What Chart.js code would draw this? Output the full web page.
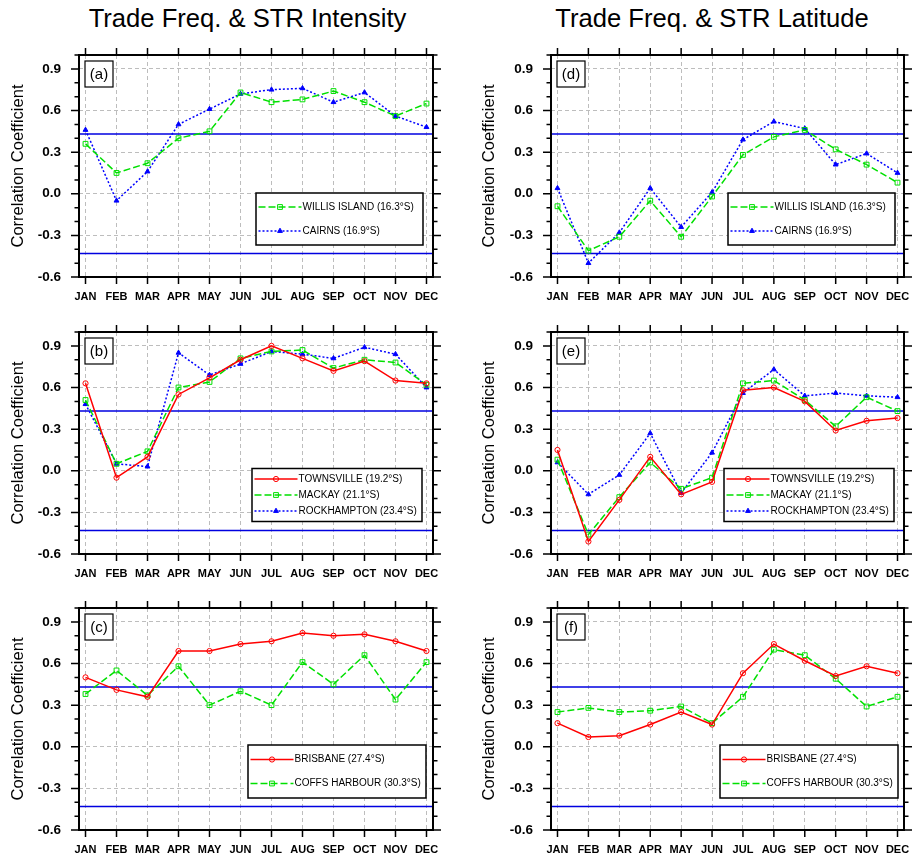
<!DOCTYPE html>
<html><head><meta charset="utf-8">
<script src="https://cdn.jsdelivr.net/npm/chart.js@4.4.1/dist/chart.umd.min.js"></script>
<style>
html,body{margin:0;padding:0;background:#fff;width:912px;height:858px;overflow:hidden;position:relative;font-family:"Liberation Sans",Arial,sans-serif}
canvas{position:absolute}
.ttl{position:absolute;top:4px;width:420px;text-align:center;font-size:25.6px;color:#000;white-space:nowrap;line-height:29px}
</style></head><body>
<div class="ttl" id="t0" style="left:37.5px"></div>
<div class="ttl" id="t1" style="left:502px"></div>
<script>
// ---------------- DATA ----------------
const months = ['JAN','FEB','MAR','APR','MAY','JUN','JUL','AUG','SEP','OCT','NOV','DEC'];
const yTickValues = [-0.6, -0.3, 0.0, 0.3, 0.6, 0.9];
const yTickLabels = ['-0.6', '-0.3', '0.0', '0.3', '0.6', '0.9'];
const sigLevel = 0.43;
const columnTitles = ['Trade Freq. & STR Intensity', 'Trade Freq. & STR Latitude'];
const yAxisTitle = 'Correlation Coefficient';
const panelLabels = ['(a)', '(b)', '(c)', '(d)', '(e)', '(f)'];

const namesNorth = ['WILLIS ISLAND (16.3°S)', 'CAIRNS (16.9°S)'];
const namesCentral = ['TOWNSVILLE (19.2°S)', 'MACKAY (21.1°S)', 'ROCKHAMPTON (23.4°S)'];
const namesSouth = ['BRISBANE (27.4°S)', 'COFFS HARBOUR (30.3°S)'];

// Trade frequency vs STR intensity
const intWillis      = [0.36, 0.15, 0.22, 0.40, 0.45, 0.73, 0.66, 0.68, 0.74, 0.66, 0.56, 0.65];
const intCairns      = [0.46, -0.05, 0.16, 0.50, 0.61, 0.72, 0.75, 0.76, 0.66, 0.73, 0.56, 0.48];
const intTownsville  = [0.63, -0.05, 0.10, 0.55, 0.67, 0.80, 0.90, 0.81, 0.72, 0.79, 0.65, 0.63];
const intMackay      = [0.51, 0.05, 0.14, 0.60, 0.64, 0.81, 0.86, 0.87, 0.74, 0.80, 0.78, 0.62];
const intRockhampton = [0.48, 0.05, 0.03, 0.85, 0.69, 0.77, 0.86, 0.84, 0.81, 0.89, 0.84, 0.60];
const intBrisbane    = [0.50, 0.41, 0.36, 0.69, 0.69, 0.74, 0.76, 0.82, 0.80, 0.81, 0.76, 0.69];
const intCoffs       = [0.38, 0.55, 0.37, 0.58, 0.30, 0.40, 0.30, 0.61, 0.45, 0.66, 0.34, 0.61];

// Trade frequency vs STR latitude
const latWillis      = [-0.09, -0.41, -0.31, -0.05, -0.31, -0.02, 0.28, 0.41, 0.46, 0.32, 0.21, 0.08];
const latCairns      = [0.04, -0.50, -0.28, 0.04, -0.24, 0.01, 0.39, 0.52, 0.47, 0.21, 0.29, 0.15];
const latTownsville  = [0.15, -0.51, -0.21, 0.10, -0.17, -0.08, 0.58, 0.60, 0.50, 0.29, 0.36, 0.38];
const latMackay      = [0.08, -0.46, -0.19, 0.06, -0.13, -0.05, 0.63, 0.65, 0.51, 0.32, 0.53, 0.43];
const latRockhampton = [0.06, -0.17, -0.03, 0.27, -0.16, 0.13, 0.56, 0.73, 0.54, 0.56, 0.54, 0.53];
const latBrisbane    = [0.17, 0.07, 0.08, 0.16, 0.25, 0.16, 0.53, 0.74, 0.62, 0.51, 0.58, 0.53];
const latCoffs       = [0.25, 0.28, 0.25, 0.26, 0.29, 0.17, 0.36, 0.70, 0.66, 0.49, 0.29, 0.36];

// ---------------- STYLES ----------------
const FONT = '"Liberation Sans", Arial, Helvetica, sans-serif';
Chart.defaults.font.family = FONT;
Chart.defaults.color = '#000';

const STY = {
  red:   {color: '#ff0000', dash: [],     pointStyle: 'circle',   radius: 2.6, fill: 'rgba(255,255,255,0)'},
  green: {color: '#00e000', dash: [7, 3], pointStyle: 'rect',     radius: 3.4, fill: 'rgba(255,255,255,0)'},
  blue:  {color: '#0000ff', dash: [2, 2], pointStyle: 'triangle', radius: 2.8, fill: '#0000ff'}
};

document.getElementById('t0').textContent = columnTitles[0];
document.getElementById('t1').textContent = columnTitles[1];

function drawMarker(ctx, ds, cx, cy) {
  const r = ds.pointRadius;
  ctx.save();
  ctx.setLineDash([]);
  ctx.lineWidth = ds.pointBorderWidth;
  ctx.strokeStyle = ds.pointBorderColor;
  ctx.fillStyle = ds.pointBackgroundColor;
  ctx.beginPath();
  if (ds.pointStyle === 'rect') {
    const s = r * Math.SQRT1_2;
    ctx.rect(cx - s, cy - s, 2 * s, 2 * s);
  } else if (ds.pointStyle === 'triangle') {
    ctx.moveTo(cx, cy - r);
    ctx.lineTo(cx + r * 0.866, cy + r / 2);
    ctx.lineTo(cx - r * 0.866, cy + r / 2);
    ctx.closePath();
  } else {
    ctx.arc(cx, cy, r, 0, Math.PI * 2);
  }
  ctx.fill();
  ctx.stroke();
  ctx.restore();
}

const framePlugin = {
  id: 'frame',
  beforeDatasetsDraw(chart) {
    const {ctx, chartArea: a, scales: {y}} = chart;
    ctx.save();
    ctx.strokeStyle = '#0000e0';
    ctx.lineWidth = 1.5;
    [sigLevel, -sigLevel].forEach(v => {
      const py = y.getPixelForValue(v);
      ctx.beginPath();
      ctx.moveTo(a.left, py);
      ctx.lineTo(a.right, py);
      ctx.stroke();
    });
    ctx.restore();
  },
  afterDatasetsDraw(chart) {
    const o = chart.options.plugins.frame;
    const {ctx, chartArea: a, scales: {x, y}} = chart;
    ctx.save();
    // outward tick marks on all four sides
    ctx.strokeStyle = '#000';
    ctx.lineWidth = 1.5;
    ctx.beginPath();
    months.forEach((m, i) => {
      const px = x.getPixelForValue(i);
      ctx.moveTo(px, a.top); ctx.lineTo(px, a.top - 7);
      ctx.moveTo(px, a.bottom); ctx.lineTo(px, a.bottom + 7);
    });
    for (let k = -6; k <= 10; k++) {
      const py = y.getPixelForValue(k / 10);
      const len = (k % 3 === 0) ? 8 : 4.5;
      ctx.moveTo(a.left, py); ctx.lineTo(a.left - len, py);
      ctx.moveTo(a.right, py); ctx.lineTo(a.right + len, py);
    }
    ctx.stroke();
    // frame
    ctx.lineWidth = 2;
    ctx.strokeRect(a.left, a.top, a.width, a.height);

    // panel label box
    const lx = a.left + 6, ly = a.top + 6;
    ctx.fillStyle = '#fff';
    ctx.fillRect(lx, ly, 28, 26);
    ctx.lineWidth = 1.2;
    ctx.strokeStyle = '#000';
    ctx.strokeRect(lx, ly, 28, 26);
    ctx.fillStyle = '#000';
    ctx.font = '15px ' + FONT;
    ctx.textAlign = 'center';
    ctx.textBaseline = 'middle';
    ctx.fillText(o.label, lx + 14, ly + 13.5);

    // legend
    const L = o.legend;
    const bx = a.left + L.x, by = a.top + L.y;
    ctx.fillStyle = '#fff';
    ctx.fillRect(bx, by, L.w, L.h);
    ctx.lineWidth = 1.5;
    ctx.strokeStyle = '#000';
    ctx.strokeRect(bx, by, L.w, L.h);
    const dsets = chart.data.datasets;
    const n = dsets.length;
    const sp = 48 / n;
    const off = (L.h - sp * (n - 1)) / 2;
    dsets.forEach((ds, i) => {
      const ry = by + off + i * sp;
      const x0 = bx + 2.5, x1 = x0 + 43;
      ctx.save();
      ctx.strokeStyle = ds.borderColor;
      ctx.lineWidth = ds.borderWidth;
      ctx.setLineDash(ds.borderDash || []);
      ctx.beginPath();
      ctx.moveTo(x0, ry); ctx.lineTo(x1, ry);
      ctx.stroke();
      ctx.restore();
      drawMarker(ctx, ds, (x0 + x1) / 2, ry);
      ctx.fillStyle = '#000';
      ctx.font = '10px ' + FONT;
      ctx.textAlign = 'left';
      ctx.textBaseline = 'middle';
      ctx.fillText(ds.label, x1 + 1, ry);
    });
    ctx.restore();
  }
};

const rowTops = [40, 317, 593];
const colLefts = [0, 456];
const legendBoxes = [
  {x: 177, y: 138, w: 167, h: 52},
  {x: 173, y: 136.5, w: 170, h: 53},
  {x: 169, y: 137, w: 178, h: 53}
];
const HIDDEN = 'rgba(0,0,0,0)';

function makePanel(col, row, label, names, series, styles) {
  const cv = document.createElement('canvas');
  cv.width = 456; cv.height = 277;
  cv.style.left = colLefts[col] + 'px';
  cv.style.top = rowTops[row] + 'px';
  document.body.appendChild(cv);
  const datasets = series.map((vals, i) => {
    const s = STY[styles[i]];
    return {
      label: names[i],
      data: vals.map((v, k) => ({x: k, y: v})),
      borderColor: s.color,
      borderDash: s.dash,
      borderWidth: 1.5,
      pointStyle: s.pointStyle,
      pointRadius: s.radius,
      pointBorderColor: s.color,
      pointBackgroundColor: s.fill,
      pointBorderWidth: 1,
      fill: false,
      tension: 0
    };
  });
  const yw = col === 0 ? 79 : 95;
  const titlePad = col === 0 ? 8.4 : 23.4;
  const padR = col === 0 ? 23 : 8;
  return new Chart(cv, {
    type: 'line',
    data: {datasets},
    options: {
      responsive: false,
      animation: false,
      devicePixelRatio: 1,
      layout: {padding: {top: 15, right: padR, left: 0, bottom: 0}},
      plugins: {
        legend: {display: false},
        tooltip: {enabled: false},
        frame: {label, legend: legendBoxes[row]}
      },
      scales: {
        x: {
          type: 'linear', min: -0.21, max: 11.21,
          afterBuildTicks: s => { s.ticks = months.map((m, i) => ({value: i})); },
          ticks: {callback: v => months[v], font: {size: 11, weight: 'bold'}, color: '#000',
                  padding: 0, autoSkip: false, maxRotation: 0},
          grid: {drawTicks: true, tickLength: 13, tickColor: HIDDEN, color: '#bdbdbd', lineWidth: 1},
          border: {display: false, dash: [4, 3]},
          afterFit: s => { s.height = 40; }
        },
        y: {
          min: -0.6, max: 1.0,
          afterBuildTicks: s => { s.ticks = yTickValues.map(v => ({value: v})); },
          ticks: {callback: (v, i) => yTickLabels[i], font: {size: 13.5, weight: 'bold'}, color: '#000', padding: 0},
          grid: {drawTicks: true, tickLength: 18, tickColor: HIDDEN, lineWidth: 1,
                 color: c => (c.tick && Math.abs(c.tick.value + 0.6) < 1e-6) ? HIDDEN : '#bdbdbd'},
          border: {display: false, dash: [4, 3]},
          title: {display: true, text: yAxisTitle, font: {size: 16.5}, color: '#000',
                  padding: {top: titlePad, bottom: 0}},
          afterFit: s => { s.width = yw; }
        }
      }
    },
    plugins: [framePlugin]
  });
}

makePanel(0, 0, panelLabels[0], namesNorth, [intWillis, intCairns], ['green', 'blue']);
makePanel(0, 1, panelLabels[1], namesCentral, [intTownsville, intMackay, intRockhampton], ['red', 'green', 'blue']);
makePanel(0, 2, panelLabels[2], namesSouth, [intBrisbane, intCoffs], ['red', 'green']);
makePanel(1, 0, panelLabels[3], namesNorth, [latWillis, latCairns], ['green', 'blue']);
makePanel(1, 1, panelLabels[4], namesCentral, [latTownsville, latMackay, latRockhampton], ['red', 'green', 'blue']);
makePanel(1, 2, panelLabels[5], namesSouth, [latBrisbane, latCoffs], ['red', 'green']);
</script></body></html>
